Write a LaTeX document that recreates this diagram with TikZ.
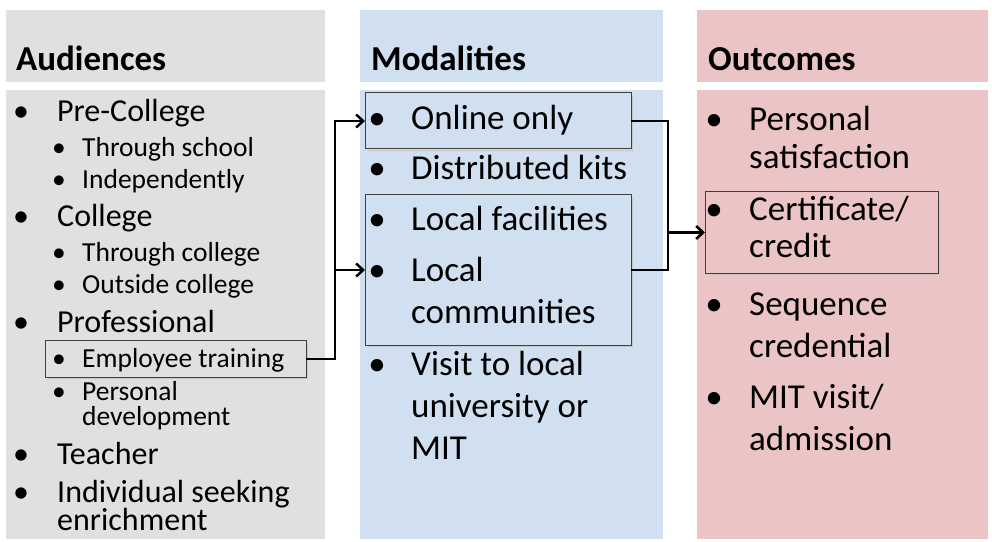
\documentclass[tikz,border=0pt]{standalone}
\usepackage{fontspec}
\setmainfont{Carlito}
\usetikzlibrary{arrows.meta}
\definecolor{colA}{RGB}{224,224,224}
\definecolor{colM}{RGB}{208,224,241}
\definecolor{colO}{RGB}{235,197,197}
\begin{document}
\begin{tikzpicture}[x=1bp,y=-1bp,
  hdr/.style={anchor=base west, inner sep=0pt, font=\fontsize{35bp}{42bp}\selectfont\bfseries},
  itm/.style={anchor=base west, inner sep=0pt, font=\fontsize{35bp}{42bp}\selectfont},
  aitm/.style={anchor=base west, inner sep=0pt, font=\fontsize{32bp}{38bp}\selectfont},
  subitm/.style={anchor=base west, inner sep=0pt, font=\fontsize{27.5bp}{33bp}\selectfont},
  bul/.style={anchor=base, inner sep=0pt, font=\fontsize{35bp}{42bp}\selectfont},
  abul/.style={anchor=base, inner sep=0pt, font=\fontsize{32bp}{38bp}\selectfont},
  sbul/.style={anchor=base, inner sep=0pt, font=\fontsize{27.5bp}{33bp}\selectfont},
  band/.style={draw=none, anchor=north west, inner sep=0pt, outer sep=0pt},
  hbox/.style={draw=black!75, line width=1bp, anchor=north west, inner sep=0pt, outer sep=0pt},
  shadowline/.style={draw=black!22, line width=1.6bp},
  wire/.style={line width=2.5bp},
  conn/.style={wire, -{Straight Barb[length=7bp,width=13bp]}}
]
\useasboundingbox (0,0) rectangle (992,542);
% column bands
\node[band, fill=colA, minimum width=319bp, minimum height=72bp] (hA) at (6,10) {};
\node[band, fill=colA, minimum width=319bp, minimum height=449bp] (pA) at (6,90) {};
\node[band, fill=colM, minimum width=303bp, minimum height=72bp] (hM) at (360,10) {};
\node[band, fill=colM, minimum width=303bp, minimum height=449bp] (pM) at (360,90) {};
\node[band, fill=colO, minimum width=291bp, minimum height=72bp] (hO) at (697,10) {};
\node[band, fill=colO, minimum width=291bp, minimum height=449bp] (pO) at (697,90) {};
% headers
\node[hdr] (tA) at (16,71) {Audiences};
\node[hdr] (tM) at (371,71) {Modalities};
\node[hdr] (tO) at (708,71) {Outcomes};
% Audiences
\node[abul] (a1b) at (21,122) {•};   \node[aitm] (a1) at (57,122) {Pre-College};
\node[sbul] (a2b) at (59,157) {•};  \node[subitm] (a2) at (82,157) {Through school};
\node[sbul] (a3b) at (59,189) {•};  \node[subitm] (a3) at (82,189) {Independently};
\node[abul] (a4b) at (21,227) {•};   \node[aitm] (a4) at (57,227) {College};
\node[sbul] (a5b) at (59,262) {•};  \node[subitm] (a5) at (82,262) {Through college};
\node[sbul] (a6b) at (59,294) {•};  \node[subitm] (a6) at (82,294) {Outside college};
\node[abul] (a7b) at (21,333) {•};   \node[aitm] (a7) at (57,333) {Professional};
\node[sbul] (a8b) at (59,368) {•};  \node[subitm] (a8) at (82,368) {Employee training};
\node[sbul] (a9b) at (59,400) {•};  \node[subitm] (a9) at (82,400) {Personal};
\node[subitm] (a9c) at (82,425) {development};
\node[abul] (a10b) at (21,464) {•};  \node[aitm] (a10) at (57,464) {Teacher};
\node[abul] (a11b) at (21,502) {•};  \node[aitm] (a11) at (57,502) {Individual seeking};
\node[aitm] (a11c) at (57,530) {enrichment};
% Modalities
\node[bul] (m1b) at (377,130) {•}; \node[itm] (m1) at (411,130) {Online only};
\node[bul] (m2b) at (377,180) {•}; \node[itm] (m2) at (411,180) {Distributed kits};
\node[bul] (m3b) at (377,231) {•}; \node[itm] (m3) at (411,231) {Local facilities};
\node[bul] (m4b) at (377,282) {•}; \node[itm] (m4) at (411,282) {Local};
\node[itm] (m4c) at (411,324) {communities};
\node[bul] (m5b) at (377,376) {•}; \node[itm] (m5) at (411,376) {Visit to local};
\node[itm] (m5c) at (411,417) {university or};
\node[itm] (m5d) at (411,459) {MIT};
% Outcomes
\node[bul] (o1b) at (714,131) {•}; \node[itm] (o1) at (749,131) {Personal};
\node[itm] (o1c) at (749,169) {satisfaction};
\node[bul] (o2b) at (714,221) {•}; \node[itm] (o2) at (749,221) {Certificate/};
\node[itm] (o2c) at (749,258) {credit};
\node[bul] (o3b) at (714,316) {•}; \node[itm] (o3) at (749,316) {Sequence};
\node[itm] (o3c) at (749,358) {credential};
\node[bul] (o4b) at (714,408) {•}; \node[itm] (o4) at (749,408) {MIT visit/};
\node[itm] (o4c) at (749,450) {admission};
% highlight boxes
\node[hbox, minimum width=261bp, minimum height=36bp] (bEmp) at (45,341) {};
\node[hbox, minimum width=266bp, minimum height=56bp] (bOnl) at (365,93) {};
\node[hbox, minimum width=266bp, minimum height=150bp] (bLoc) at (365,195) {};
\node[hbox, minimum width=233bp, minimum height=81bp] (bCert) at (705,192) {};
% soft shadows of the highlight boxes
\foreach \b in {bEmp,bOnl,bLoc,bCert}{
  \draw[shadowline] ([shift={(1.5,3)}]\b.north east) -- ([shift={(1.5,1.5)}]\b.south east) -- ([shift={(3,1.5)}]\b.south west);
}
% connectors
\coordinate (jL) at (335,0);
\coordinate (jR) at (668,0);
\draw[conn] (bEmp.east) -| (jL |- bOnl.west) -- (bOnl.west);
\draw[conn] (bEmp.east) -| (jL |- bLoc.west) -- (bLoc.west);
\draw[wire] (bOnl.east) -| (jR |- bLoc.east) -- (bLoc.east);
\draw[conn] (jR |- bCert.west) -- (bCert.west);
\end{tikzpicture}
\end{document}
